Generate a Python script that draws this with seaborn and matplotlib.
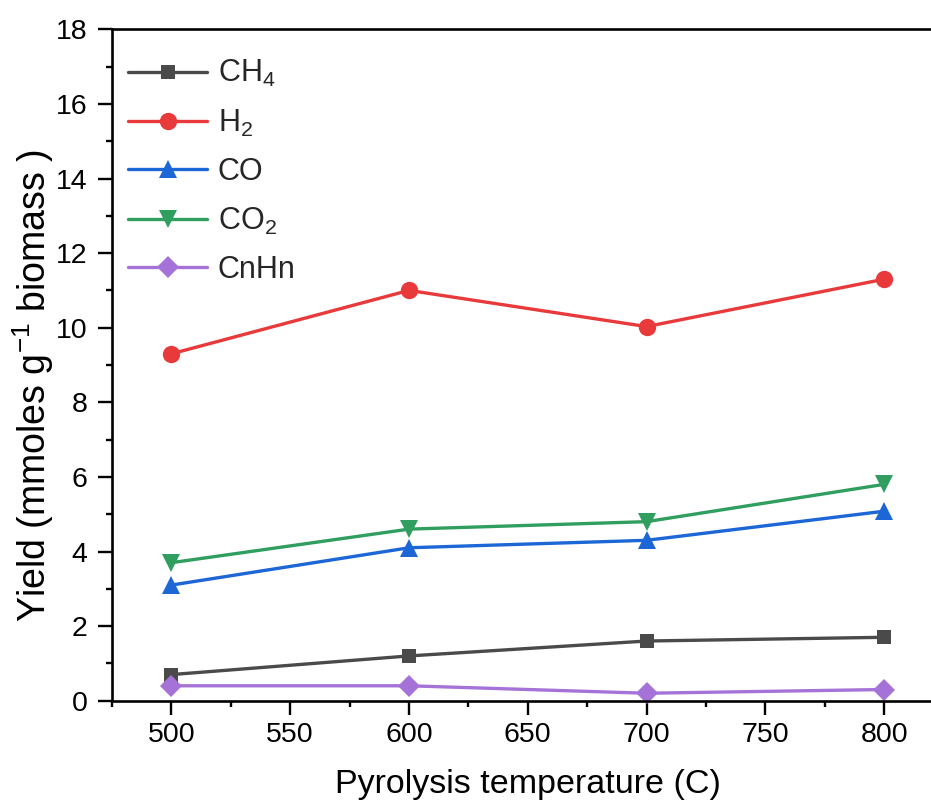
import matplotlib
matplotlib.use("Agg")
import matplotlib.pyplot as plt
from matplotlib.ticker import MultipleLocator
import seaborn as sns
import pandas as pd

# Pyrolysis gas yields (mmoles per g biomass)
temperatures = [500, 600, 700, 800]
ch4 = [0.7, 1.2, 1.6, 1.7]
h2 = [9.3, 11.0, 10.03, 11.3]
co = [3.1, 4.1, 4.3, 5.08]
co2 = [3.7, 4.6, 4.8, 5.8]
cnhn = [0.4, 0.4, 0.2, 0.3]

gas_labels = ["CH$_4$", "H$_2$", "CO", "CO$_2$", "CnHn"]
gas_values = [ch4, h2, co, co2, cnhn]

colors = ["#4a4a4a", "#e8393b", "#1c66d6", "#2f9e5f", "#a573d8"]
markers = ["s", "o", "^", "v", "D"]
sizes = [10, 12.5, 13, 13, 11.5]

records = []
for label, vals in zip(gas_labels, gas_values):
    for t, v in zip(temperatures, vals):
        records.append({"Temperature": t, "Yield": v, "Gas": label})
df = pd.DataFrame(records)

sns.set_theme(style="ticks")
plt.rcParams["font.family"] = ["Liberation Sans", "DejaVu Sans"]
plt.rcParams["mathtext.fontset"] = "custom"
plt.rcParams["mathtext.rm"] = "Liberation Sans"
plt.rcParams["mathtext.it"] = "Liberation Sans"

fig = plt.figure(figsize=(9.31, 8.10), dpi=100)
ax = fig.add_axes([112 / 931, 109.3 / 810, 831.5 / 931, 671.4 / 810])

for label, col, mk, ms in zip(gas_labels, colors, markers, sizes):
    sub = df[df["Gas"] == label]
    sns.lineplot(data=sub, x="Temperature", y="Yield", ax=ax, color=col,
                 marker=mk, markersize=ms, markeredgewidth=0, linewidth=2.4,
                 label=label, clip_on=False)

ax.set_xlim(475, 825)
ax.set_ylim(0, 18)
ax.xaxis.set_major_locator(MultipleLocator(50))
ax.xaxis.set_minor_locator(MultipleLocator(25))
ax.yaxis.set_major_locator(MultipleLocator(2))
ax.yaxis.set_minor_locator(MultipleLocator(1))

for side in ["left", "bottom", "top", "right"]:
    ax.spines[side].set_linewidth(1.9)
    ax.spines[side].set_color("black")

ax.tick_params(axis="both", which="major", length=10, width=1.7, direction="out",
               labelsize=20.5, colors="black")
ax.tick_params(axis="both", which="minor", length=4.5, width=1.7, direction="out",
               colors="black")
ax.tick_params(axis="x", which="major", pad=5)
ax.tick_params(axis="y", which="major", pad=7.5)
ax.tick_params(top=False, right=False, which="both")

ax.set_xlabel("Pyrolysis temperature (C)", fontsize=24.5, color="black")
ax.xaxis.set_label_coords(0.5003, -0.101)
ax.set_ylabel("Yield (mmoles g$^{-1}$ biomass )", fontsize=27, color="black")
ax.yaxis.set_label_coords(-0.0673, 0.469)

leg = ax.legend(loc="upper left", frameon=False, fontsize=22, handlelength=2.6,
                handletextpad=0.33, labelspacing=0.6, borderaxespad=0.0,
                bbox_to_anchor=(0.0046, 0.975))
for line in leg.get_lines():
    line.set_linewidth(2.4)

fig.savefig("out.png", dpi=100)
